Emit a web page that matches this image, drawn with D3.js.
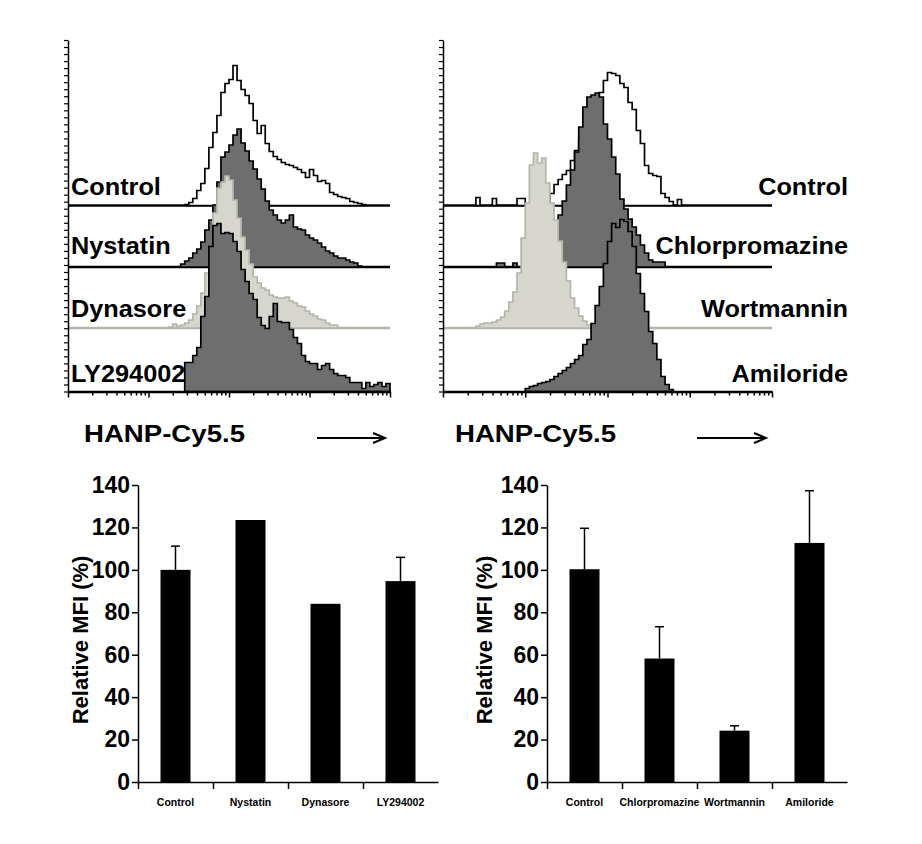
<!DOCTYPE html>
<html><head><meta charset="utf-8">
<script src="https://cdn.jsdelivr.net/npm/d3@7"></script>
<style>
body{margin:0;background:#fff}
svg{display:block}
text{font-family:Arial,"Liberation Sans",sans-serif;font-weight:bold;fill:#000}
</style>
</head><body>
<svg id="c" width="922" height="844"></svg>
<script>
// ---------- DATA ----------
// Histogram bins: 0.05-decade bins on a 4-decade log axis (bin index i => 10^(i*0.05))
const binStep = 0.05;
// Left panel (back to front)
const leftLabels = ["Control", "Nystatin", "Dynasore", "LY294002"];
const leftStarts = [29, 28, 25, 29];
const ctrlL = [1,3,7,15,22,37,58,73,90,113,122,126,140,125,116,110,102,85,72,80,62,54,49,46,43,41,40,38,36,33,28,36,30,24,25,22,13,11,9,8,7,4,3,2,1];
const nystatin = [3,6,9,14,18,25,37,47,62,85,110,115,122,132,138,124,116,106,98,88,78,66,57,52,47,44,47,52,40,38,37,32,29,27,24,20,16,14,11,9,9,7,5,4,1];
const dynasore = [1,4,2,3,5,8,14,22,35,55,80,115,140,146,152,148,128,110,91,78,64,51,45,40,38,33,31,30,30,31,27,25,22,21,17,14,12,9,8,5,3,3];
const ly294002 = [29,29,36,44,75,95,145,166,168,158,159,158,150,140,122,110,98,92,74,66,63,75,88,70,69,69,62,54,48,36,30,28,28,22,26,28,22,18,16,16,14,9,9,9,3,9,5,7,9,5,8];
// Right panel (back to front)
const rightLabels = ["Control", "Chlorpromazine", "Wortmannin", "Amiloride"];
const rightStarts = [8, 13, 8, 20];
const ctrlR = [8,0,0,0,7,0,0,0,0,0,7,7,0,0,0,0,0,0,12,21,26,31,35,45,55,65,75,88,100,108,113,125,133,132,130,122,118,103,96,75,62,40,32,30,29,12,8,4,0,6,0];
const chlorpromazine = [4,4,0,0,4,0,0,0,0,0,0,0,0,0,25,52,66,82,97,115,140,160,170,172,174,170,143,128,110,93,68,58,48,40,32,22,14,7,5,5,5];
const wortmannin = [2,4,5,5,6,8,11,17,26,36,55,90,125,163,175,165,170,145,125,108,87,66,47,30,20,12,7,3];
const amiloride = [3,5,6,8,9,10,12,15,18,21,24,28,32,36,47,52,68,86,105,128,150,168,164,172,170,160,145,118,98,80,60,48,32,15,7,2];
const axisTitle = "HANP-Cy5.5";

// Bar charts
const barCatsL = ["Control", "Nystatin", "Dynasore", "LY294002"];
const barMeansL = [100, 123.5, 84, 94.7];
const barErrL = [11.2, 0, 0, 11.2];
const barCatsR = ["Control", "Chlorpromazine", "Wortmannin", "Amiloride"];
const barMeansR = [100.3, 58.2, 24.2, 112.7];
const barErrR = [19.3, 15, 2.3, 24.6];
const yTicksBar = [0, 20, 40, 60, 80, 100, 120, 140];
const yTitle = "Relative MFI (%)";

// ---------- STYLE ----------
const DARK = "#6e6e6e", LIGHT = "#d6d6ce", LIGHTLINE = "#b4b4aa";
const styles = [
  {fill: "#fff", stroke: "#000", base: "#000"},
  {fill: DARK, stroke: "#000", base: "#000"},
  {fill: LIGHT, stroke: LIGHTLINE, base: LIGHTLINE},
  {fill: DARK, stroke: "#000", base: "#000"}
];

const svg = d3.select("#c");

function histPanel(o) {
  const g = svg.append("g");
  const x = d3.scaleLog().domain([1, 1e4]).range([o.x0, o.x1]);
  const h = d3.scaleLinear().domain([0, 150]).range([0, 150]);
  const yAx = d3.scaleLinear().domain([0, 50]).range([o.bottom, o.top]);
  const bases = o.bases;

  o.series.forEach((counts, k) => {
    const st = styles[k];
    const base = bases[k];
    const start = o.starts[k];
    if (k < o.series.length - 1) {
      g.append("line").attr("x1", o.x0).attr("x2", o.x1)
        .attr("y1", base).attr("y2", base)
        .attr("stroke", st.base).attr("stroke-width", 2.5);
    }
    const pts = counts.map((c, j) => ({e: (start + j) * binStep, c}));
    pts.push({e: (start + counts.length) * binStep, c: counts[counts.length - 1]});
    const area = d3.area()
      .x(d => x(Math.pow(10, d.e)))
      .y0(base)
      .y1(d => base - h(d.c))
      .curve(d3.curveStepAfter);
    g.append("path").attr("d", area(pts))
      .attr("fill", st.fill).attr("stroke", st.stroke)
      .attr("stroke-width", 1.7).attr("stroke-linejoin", "miter");
  });

  // y axis (ticks only)
  g.append("g").attr("transform", `translate(${o.x0},0)`)
    .call(d3.axisLeft(yAx).ticks(50).tickSize(4).tickSizeOuter(0).tickFormat(""))
    .call(s => s.select(".domain").attr("stroke-width", 1.5))
    .call(s => s.selectAll(".tick line").attr("stroke-width", 1.2));

  // x axis (log)
  const tv = [];
  for (let d = 1; d < 1e4; d *= 10) for (let m = 1; m < 10; m++) tv.push(d * m);
  tv.push(1e4);
  g.append("g").attr("transform", `translate(0,${o.bottom})`)
    .call(d3.axisBottom(x).tickValues(tv).tickSize(4).tickSizeOuter(0).tickFormat(""))
    .call(s => s.select(".domain").attr("stroke-width", 2.5))
    .call(s => s.selectAll(".tick line").attr("stroke-width", 1.5)
      .attr("y2", d => (Math.abs(Math.log10(d) - Math.round(Math.log10(d))) < 1e-9 ? 6 : 4)));

  // labels
  o.labels.forEach((t, k) => {
    g.append("text")
      .attr("transform", `translate(${o.labelX},${o.labelY[k]}) scale(1.1,1)`)
      .attr("text-anchor", o.anchor)
      .attr("font-size", 23)
      .text(t);
  });

  // axis caption + arrow
  g.append("text").attr("x", o.capX).attr("y", 442)
    .attr("font-size", 23).attr("textLength", 161).attr("lengthAdjust", "spacingAndGlyphs")
    .attr("font-weight", "bold").text(axisTitle);
  const ay = 438;
  g.append("line").attr("x1", o.arrowX0).attr("x2", o.arrowX1).attr("y1", ay).attr("y2", ay)
    .attr("stroke", "#000").attr("stroke-width", 2);
  g.append("path")
    .attr("d", `M${o.arrowX1 - 12},${ay - 5} L${o.arrowX1},${ay} L${o.arrowX1 - 12},${ay + 5}`)
    .attr("fill", "none").attr("stroke", "#000").attr("stroke-width", 2);
}

const bases = [205.5, 267, 328, 391.5];
histPanel({
  x0: 68, x1: 390, top: 40, bottom: 391.5, bases,
  series: [ctrlL, nystatin, dynasore, ly294002], starts: leftStarts,
  labels: leftLabels, labelX: 71, labelY: [195, 254, 317, 382], anchor: "start",
  capX: 84, arrowX0: 317, arrowX1: 385
});
histPanel({
  x0: 443, x1: 772, top: 40, bottom: 391.5, bases,
  series: [ctrlR, chlorpromazine, wortmannin, amiloride], starts: rightStarts,
  labels: rightLabels, labelX: 848, labelY: [195, 254, 317, 382], anchor: "end",
  capX: 455, arrowX0: 697, arrowX1: 766
});

function barChart(o) {
  const g = svg.append("g");
  const y = d3.scaleLinear().domain([0, 140]).range([782, 485]);
  const x = d3.scaleBand().domain(o.cats).range([o.x0, o.x0 + 300]).padding(0);
  const bw = x.bandwidth() * 0.4;

  g.selectAll("rect.bar").data(o.cats).join("rect")
    .attr("x", c => x(c) + x.bandwidth() / 2 - bw / 2)
    .attr("width", bw)
    .attr("y", (c, i) => y(o.means[i]))
    .attr("height", (c, i) => y(0) - y(o.means[i]))
    .attr("fill", "#000");

  o.cats.forEach((c, i) => {
    if (!o.errs[i]) return;
    const cx = x(c) + x.bandwidth() / 2;
    g.append("line").attr("x1", cx).attr("x2", cx)
      .attr("y1", y(o.means[i])).attr("y2", y(o.means[i] + o.errs[i]))
      .attr("stroke", "#000").attr("stroke-width", 1.5);
    g.append("line").attr("x1", cx - 4.5).attr("x2", cx + 4.5)
      .attr("y1", y(o.means[i] + o.errs[i])).attr("y2", y(o.means[i] + o.errs[i]))
      .attr("stroke", "#000").attr("stroke-width", 1.5);
  });

  // y axis
  g.append("g").attr("transform", `translate(${o.x0},0)`)
    .call(d3.axisLeft(y).tickValues(yTicksBar).tickSize(6).tickPadding(2).tickSizeOuter(0))
    .call(s => s.select(".domain").attr("stroke-width", 1.5))
    .call(s => s.selectAll(".tick line").attr("stroke-width", 1.5))
    .call(s => s.selectAll(".tick text").attr("font-size", 23).attr("font-weight", "bold")
      .attr("font-family", "Arial, 'Liberation Sans', sans-serif").attr("fill", "#000"));

  // x axis: line + ticks at band edges
  g.append("g").attr("transform", `translate(0,782)`)
    .call(d3.axisBottom(d3.scaleLinear().domain([0, 4]).range([o.x0, o.x0 + 300]))
      .tickValues([0, 1, 2, 3]).tickSize(7).tickSizeOuter(0).tickFormat(""))
    .call(s => s.select(".domain").attr("stroke-width", 1.5))
    .call(s => s.selectAll(".tick line").attr("stroke-width", 1.5));

  g.selectAll("text.cat").data(o.cats).join("text")
    .attr("class", "cat")
    .attr("x", c => x(c) + x.bandwidth() / 2)
    .attr("y", 806)
    .attr("text-anchor", "middle")
    .attr("font-size", 10.5)
    .text(c => c);

  g.append("text")
    .attr("transform", `translate(${o.titleX},640) rotate(-90)`)
    .attr("text-anchor", "middle").attr("font-size", 22)
    .text(yTitle);
}

barChart({x0: 138, cats: barCatsL, means: barMeansL, errs: barErrL, titleX: 88});
barChart({x0: 547, cats: barCatsR, means: barMeansR, errs: barErrR, titleX: 492});
</script>
</body></html>
